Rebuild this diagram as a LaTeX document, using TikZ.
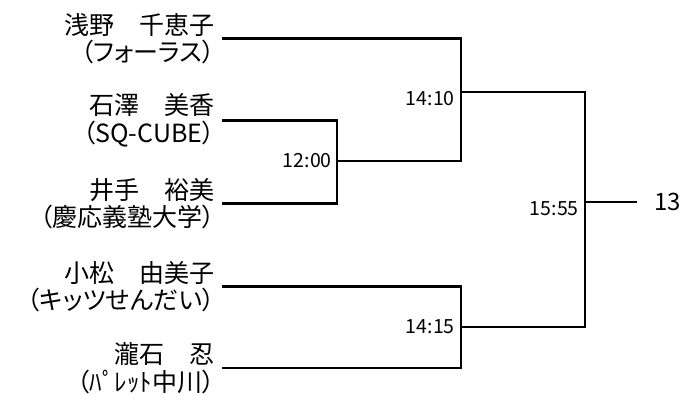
\documentclass[tikz,border=0pt]{standalone}
\usepackage{fontspec}
\setmainfont{Noto Sans CJK JP}[RawFeature=+palt]
\begin{document}
\begin{tikzpicture}[x=1pt,y=-1pt,line width=2.7pt,
    player/.style={anchor=east,align=right,inner sep=0pt,font=\fontsize{25}{27.5}\selectfont},
    score/.style={anchor=east,inner sep=0pt,font=\fontsize{19.5}{22}\selectfont}]
  \useasboundingbox (0,0) rectangle (684,394);
  % players
  \node[player] (p1) at (216,38.5) {浅野　千恵子\\（フォーラス）};
  \node[player] (p2) at (216,120.5) {石澤　美香\\（SQ-CUBE）};
  \node[player] (p3) at (216,203.5) {井手　裕美\\（慶応義塾大学）};
  \node[player] (p4) at (216,286.5) {小松　由美子\\（キッツせんだい）};
  \node[player] (p5) at (216,368) {瀧石　忍\\（ﾊﾟﾚｯﾄ中川）};
  % joints
  \coordinate (w1) at (337,161);
  \coordinate (w2) at (461,92);
  \coordinate (w3) at (461,327);
  \coordinate (w4) at (585,202);
  \coordinate (fin) at (637,202);
  % bracket
  \draw ([xshift=6]p2.east) -| (w1) |- ([xshift=6]p3.east);
  \draw ([xshift=6]p1.east) -| (w2) |- (w1);
  \draw ([xshift=6]p4.east) -| (w3) |- ([xshift=6]p5.east);
  \draw (w2) -| (w4) |- (w3);
  \draw (w4) -- (fin);
  % times
  \node[score] (t1) at (333,160.5) {12:00};
  \node[score] (t2) at (456,99) {14:10};
  \node[score] (t3) at (456,326.5) {14:15};
  \node[score] (t4) at (580,209) {15:55};
  \node[anchor=west,inner sep=0pt,font=\fontsize{24}{28}\selectfont] (res) at (653,202) {13};
\end{tikzpicture}
\end{document}
